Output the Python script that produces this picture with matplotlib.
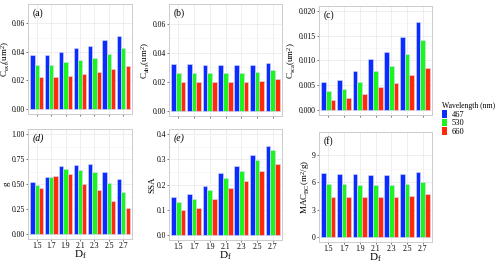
import numpy as np
import matplotlib
matplotlib.use('Agg')
import matplotlib.pyplot as plt
from matplotlib.patches import Patch

plt.rcParams['font.family'] = 'serif'
plt.rcParams['font.serif'] = ['Liberation Serif', 'DejaVu Serif']
plt.rcParams['mathtext.fontset'] = 'custom'
plt.rcParams['mathtext.rm'] = 'Liberation Serif'
plt.rcParams['mathtext.it'] = 'Liberation Serif:italic'

df_labels = ['1.5', '1.7', '1.9', '2.1', '2.3', '2.5', '2.7']
wavelengths = ['467', '530', '660']

# C_ext
c_ext_467 = [0.038, 0.038, 0.040, 0.043, 0.044, 0.048, 0.051]
c_ext_530 = [0.031, 0.031, 0.0326, 0.0345, 0.0357, 0.0388, 0.0424]
c_ext_660 = [0.0224, 0.0224, 0.0233, 0.0248, 0.026, 0.028, 0.030]
# C_abs
c_abs_467 = [0.032, 0.032, 0.0313, 0.0313, 0.0313, 0.0315, 0.0326]
c_abs_530 = [0.0264, 0.0264, 0.0264, 0.0264, 0.0264, 0.0267, 0.0278]
c_abs_660 = [0.020, 0.020, 0.020, 0.020, 0.020, 0.0207, 0.0216]
# C_sca
c_sca_467 = [0.0056, 0.0061, 0.0078, 0.0103, 0.0117, 0.0147, 0.0178]
c_sca_530 = [0.0039, 0.0043, 0.0057, 0.0078, 0.0089, 0.0114, 0.0141]
c_sca_660 = [0.0021, 0.0024, 0.0032, 0.0046, 0.0054, 0.0070, 0.0084]
# asymmetry parameter g
g_467 = [0.517, 0.574, 0.676, 0.693, 0.703, 0.625, 0.551]
g_530 = [0.49, 0.567, 0.649, 0.642, 0.618, 0.51, 0.422]
g_660 = [0.459, 0.578, 0.605, 0.503, 0.436, 0.328, 0.257]
# SSA
ssa_467 = [0.149, 0.161, 0.195, 0.247, 0.272, 0.316, 0.353]
ssa_530 = [0.131, 0.143, 0.177, 0.227, 0.252, 0.299, 0.335]
ssa_660 = [0.099, 0.108, 0.141, 0.188, 0.215, 0.252, 0.28]
# MAC_BC
mac_467 = [7.0, 6.98, 6.9, 6.87, 6.87, 6.9, 7.12]
mac_530 = [5.78, 5.78, 5.75, 5.75, 5.75, 5.86, 6.07]
mac_660 = [4.41, 4.37, 4.37, 4.37, 4.45, 4.55, 4.74]

colors = ['#0a2cff', '#1cf51c', '#ff2a0a']

W, H = 500, 267
fig = plt.figure(figsize=(W / 100, H / 100), dpi=100)


def px_axes(x0, y0, x1, y1):
    return fig.add_axes([x0 / W, 1 - y1 / H, (x1 - x0) / W, (y1 - y0) / H])


# box (px), data, ylabel, limits, ticks, format, tag, has x labels, tag style, ylabel right edge (px)
panels = [
    ((28, 4, 132, 114), [c_ext_467, c_ext_530, c_ext_660], r'$\mathregular{C_{ext}(um^2)}$',
     (0, 0.07), [0, 0.02, 0.04, 0.06], '%.2f', '(a)', False, 'normal', 11.8),
    ((169, 4, 282, 116), [c_abs_467, c_abs_530, c_abs_660], r'$\mathregular{C_{abs}(um^2)}$',
     (0, 0.07), [0, 0.02, 0.04, 0.06], '%.2f', '(b)', False, 'normal', 152),
    ((319, 6, 432, 115), [c_sca_467, c_sca_530, c_sca_660], r'$\mathregular{C_{sca}(um^2)}$',
     (0, 0.02), [0, 0.005, 0.01, 0.015, 0.02], '%.3f', '(c)', False, 'normal', 297.5),
    ((28, 129, 132, 239), [g_467, g_530, g_660], 'g',
     (0, 1.0), [0, 0.25, 0.5, 0.75, 1.0], '%.2f', '(d)', True, 'italic', 11),
    ((169, 129, 282, 240), [ssa_467, ssa_530, ssa_660], 'SSA',
     (0, 0.4), [0, 0.1, 0.2, 0.3, 0.4], '%.1f', '(e)', True, 'italic', 156),
    ((319, 132, 432, 242), [mac_467, mac_530, mac_660], r'$\mathregular{MAC_{BC}(m^2/g)}$',
     (0, 11), [0, 3, 6, 9], '%d', '(f)', True, 'normal', 311.5),
]

x = np.arange(len(df_labels))
bw = 0.3
for box, series, ylabel, lim, ticks, fmt, tag, bottom, tagstyle, ylx in panels:
    ax = px_axes(*box)
    for i, vals in enumerate(series):
        ax.bar(x + (i - 1) * bw, vals, bw, color=colors[i], edgecolor='#d8dcff',
               linewidth=0.4, zorder=3)
    pad = (lim[1] - lim[0]) * 0.05
    ax.set_ylim(lim[0] - pad, lim[1] + pad)
    ax.set_xlim(-0.6, len(df_labels) - 0.4)
    ax.set_yticks(ticks)
    ax.set_yticklabels([fmt % t for t in ticks])
    minor = [(a + b) / 2 for a, b in zip(ticks[:-1], ticks[1:])]
    ax.set_yticks(minor, minor=True)
    ax.set_xticks(x)
    if bottom:
        ax.set_xticklabels(df_labels)
        ax.set_xlabel(r'$\mathregular{D_f}$', fontsize=8, labelpad=-1)
    else:
        ax.set_xticklabels([])
    ax.grid(which='major', color='#ebebeb', linewidth=0.6, zorder=0)
    ax.grid(which='minor', axis='y', color='#f3f3f3', linewidth=0.4, zorder=0)
    ax.tick_params(which='major', labelsize=5.5, length=1.5, width=0.5, color='#444444', pad=0.8)
    ax.tick_params(which='minor', length=0)
    for s in ax.spines.values():
        s.set_color('#cccccc')
        s.set_linewidth(0.7)
    ax.set_ylabel(ylabel, fontsize=6.5)
    ax.yaxis.set_label_coords((ylx - box[0]) / (box[2] - box[0]), 0.5)
    ax.text(0.04, 0.96, tag, transform=ax.transAxes, ha='left', va='top', fontsize=7,
            style=tagstyle)

handles = [Patch(facecolor=c, edgecolor='none') for c in colors]
fig.legend(handles, wavelengths, title='Wavelength (nm)', loc='upper left',
           bbox_to_anchor=(438 / W, 1 - 98 / H), frameon=False, fontsize=6,
           title_fontsize=5.5, handlelength=0.6, handleheight=1.0, handletextpad=0.5,
           labelspacing=0.0, borderpad=0, alignment='left')

fig.savefig('out.png', dpi=100)
